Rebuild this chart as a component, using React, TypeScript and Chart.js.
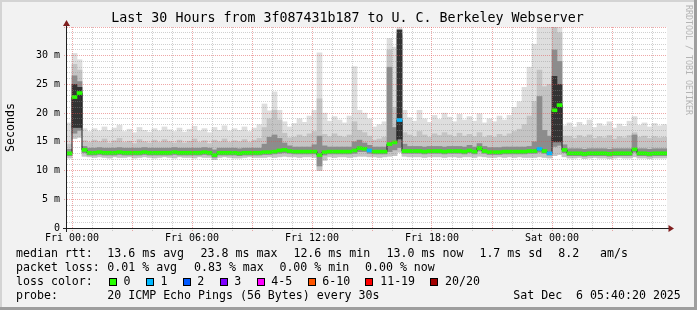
import React, { useEffect, useRef } from 'react';
import { Chart, registerables } from 'chart.js';

Chart.register(...registerables);

// ---------- texts ----------
const titleText = 'Last 30 Hours from 3f087431b187 to U. C. Berkeley Webserver';
const yAxisTitle = 'Seconds';
const watermark = 'RRDTOOL / TOBI OETIKER';

// ---------- axes ----------
const xTickHours = [0, 6, 12, 18, 24];
const xTickLabels = ['Fri 00:00', 'Fri 06:00', 'Fri 12:00', 'Fri 18:00', 'Sat 00:00'];
const yTickValues = [0, 5, 10, 15, 20, 25, 30];
const yTickLabels = ['0', '5 m', '10 m', '15 m', '20 m', '25 m', '30 m'];

// 15-minute bins, first bin starts 15 min before Fri 00:00 (hours)
const firstBinStart = -0.25;
const binHours = 0.25;

// ---------- series (ms) ----------
const median = [
  13.0, 22.8, 23.5, 13.6, 13.1, 13.1, 13.2, 13.1, 13.1, 13.1,
  13.2, 13.1, 13.1, 13.1, 13.1, 13.2, 13.1, 13.1, 13.1, 13.1,
  13.1, 13.2, 13.1, 13.1, 13.1, 13.1, 13.1, 13.2, 13.1, 12.7,
  13.1, 13.1, 13.1, 13.1, 13.0, 13.1, 13.1, 13.1, 13.1, 13.2,
  13.2, 13.3, 13.5, 13.6, 13.4, 13.3, 13.3, 13.3, 13.3, 13.3,
  12.7, 13.2, 13.3, 13.3, 13.3, 13.3, 13.3, 13.5, 13.9, 13.8,
  13.5, 13.3, 13.3, 13.3, 14.6, 14.9, 18.8, 13.4, 13.4, 13.4,
  13.4, 13.3, 13.4, 13.4, 13.4, 13.3, 13.4, 13.4, 13.4, 13.3,
  13.5, 13.3, 13.9, 13.4, 13.2, 13.2, 13.2, 13.3, 13.3, 13.3,
  13.3, 13.3, 13.4, 13.4, 13.8, 13.4, 13.0, 20.5, 21.4, 13.6,
  13.0, 13.0, 13.0, 12.9, 13.0, 13.0, 13.0, 13.0, 12.9, 13.0,
  13.0, 13.0, 13.0, 13.7, 13.0, 13.0, 12.9, 13.0, 13.0, 13.0,
];

const lossPings = [
  0, 0, 0, 0, 0, 0, 0, 0, 0, 0,
  0, 0, 0, 0, 0, 0, 0, 0, 0, 0,
  0, 0, 0, 0, 0, 0, 0, 0, 0, 0,
  0, 0, 0, 0, 0, 0, 0, 0, 0, 0,
  0, 0, 0, 0, 0, 0, 0, 0, 0, 0,
  0, 0, 0, 0, 0, 0, 0, 0, 0, 0,
  1, 0, 0, 0, 0, 0, 1, 0, 0, 0,
  0, 0, 0, 0, 0, 0, 0, 0, 0, 0,
  0, 0, 0, 0, 0, 0, 0, 0, 0, 0,
  0, 0, 0, 0, 1, 0, 1, 0, 0, 0,
  0, 0, 0, 0, 0, 0, 0, 0, 0, 0,
  0, 0, 0, 0, 0, 0, 0, 0, 0, 0,
];

const minPing = [
  12.2, 15.6, 15.8, 12.5, 12.4, 12.3, 12.4, 12.3, 12.2, 12.4,
  12.3, 12.3, 12.4, 12.2, 12.3, 12.4, 12.3, 12.2, 12.3, 12.4,
  12.3, 12.2, 12.4, 12.3, 12.3, 12.2, 12.4, 12.3, 12.3, 11.9,
  12.3, 12.4, 12.3, 12.2, 12.2, 12.3, 12.4, 12.3, 12.3, 12.3,
  12.4, 12.3, 12.4, 12.5, 12.4, 12.4, 12.3, 12.4, 12.4, 12.3,
  10.0, 11.8, 12.4, 12.3, 12.4, 12.4, 12.3, 12.4, 12.5, 12.5,
  12.4, 12.4, 12.3, 12.4, 12.5, 12.6, 13.2, 12.5, 12.4, 12.4,
  12.4, 12.3, 12.4, 12.4, 12.4, 12.3, 12.4, 12.4, 12.3, 12.4,
  12.4, 12.3, 12.5, 12.4, 12.3, 12.3, 12.4, 12.3, 12.4, 12.3,
  12.4, 12.3, 12.3, 12.3, 12.4, 12.3, 12.2, 12.6, 12.8, 12.4,
  12.2, 12.2, 12.3, 12.1, 12.2, 12.3, 12.2, 12.2, 12.1, 12.2,
  12.3, 12.2, 12.2, 12.4, 12.2, 12.2, 12.1, 12.2, 12.2, 12.2,
];

const maxPing = [
  18.3, 30.4, 29.3, 17.3, 16.8, 17.3, 16.9, 17.6, 17.0, 17.4,
  17.9, 16.8, 17.2, 16.6, 17.5, 17.0, 16.7, 17.3, 16.9, 17.6,
  17.1, 16.8, 17.4, 16.7, 17.2, 17.7, 16.9, 17.3, 16.6, 17.5,
  17.0, 17.8, 16.9, 17.3, 17.0, 17.6, 16.8, 17.4, 18.0, 21.6,
  20.4, 23.7, 20.5, 18.5, 17.6, 18.2, 19.0, 18.4, 19.5, 20.5,
  30.5, 20.0, 18.6, 19.4, 18.8, 18.3, 19.5, 28.1, 20.5, 20.0,
  19.0, 17.6, 18.0, 18.5, 33.0, 31.5, 35.0, 20.5, 19.2, 18.6,
  20.5, 19.0, 18.4, 19.6, 18.9, 20.0, 19.3, 18.5, 19.8, 18.8,
  19.4, 18.6, 19.9, 18.3, 19.0, 18.5, 19.5, 18.8, 19.6, 21.0,
  22.0, 24.5, 28.0, 32.0, 35.0, 35.0, 35.0, 35.0, 35.0, 17.8,
  18.3, 17.6, 18.4, 17.9, 18.8, 17.5, 18.2, 17.8, 18.5, 17.4,
  18.1, 17.7, 18.6, 19.4, 17.9, 18.3, 17.6, 18.2, 17.8, 18.0,
];

const upperMid = [
  14.6, 28.5, 27.5, 15.2, 14.9, 15.3, 15.0, 15.5, 14.8, 15.2,
  15.6, 14.9, 15.1, 14.7, 15.4, 15.0, 14.8, 15.3, 14.9, 15.4,
  15.0, 14.8, 15.3, 14.8, 15.1, 15.5, 14.9, 15.2, 14.7, 15.3,
  15.0, 15.5, 14.9, 15.2, 15.0, 15.4, 14.9, 15.3, 15.6, 17.5,
  19.0, 20.5, 18.8, 16.5, 15.7, 15.8, 16.2, 15.9, 16.4, 16.8,
  22.5, 16.3, 15.9, 16.4, 16.0, 15.8, 16.2, 18.5, 17.0, 16.6,
  16.0, 15.3, 15.5, 15.8, 31.0, 21.0, 34.0, 16.6, 16.2, 15.9,
  16.8, 16.2, 15.8, 16.4, 16.1, 16.6, 16.2, 15.9, 16.5, 16.0,
  16.3, 15.9, 16.6, 15.8, 16.1, 15.8, 16.3, 16.0, 16.4, 16.8,
  17.2, 18.0, 19.5, 22.0, 27.5, 24.6, 25.0, 35.0, 34.0, 16.0,
  16.0, 15.6, 16.1, 15.8, 16.2, 15.6, 15.9, 15.7, 16.1, 15.5,
  15.9, 15.7, 16.1, 16.6, 15.8, 16.0, 15.6, 15.9, 15.7, 15.8,
];

const darkLow = [
  12.6, 16.5, 17.0, 13.1, 12.7, 12.7, 12.8, 12.7, 12.7, 12.7,
  12.8, 12.7, 12.7, 12.7, 12.7, 12.8, 12.7, 12.7, 12.7, 12.7,
  12.7, 12.8, 12.7, 12.7, 12.7, 12.7, 12.7, 12.8, 12.7, 12.3,
  12.7, 12.7, 12.7, 12.7, 12.6, 12.7, 12.7, 12.7, 12.7, 12.8,
  12.8, 12.9, 13.0, 13.1, 13.0, 12.9, 12.9, 12.9, 12.9, 12.9,
  10.8, 12.7, 12.9, 12.9, 12.9, 12.9, 12.9, 13.0, 13.3, 13.3,
  13.0, 12.9, 12.9, 12.9, 13.3, 13.6, 14.0, 13.0, 13.0, 13.0,
  13.0, 12.9, 13.0, 13.0, 13.0, 12.9, 13.0, 13.0, 13.0, 12.9,
  13.1, 12.9, 13.4, 13.0, 12.8, 12.8, 12.8, 12.9, 12.9, 12.9,
  12.9, 12.9, 13.0, 13.0, 13.2, 13.0, 12.7, 14.2, 14.4, 13.1,
  12.6, 12.6, 12.6, 12.5, 12.6, 12.6, 12.6, 12.6, 12.5, 12.6,
  12.6, 12.6, 12.6, 13.2, 12.6, 12.6, 12.5, 12.6, 12.6, 12.6,
];

const darkHigh = [
  13.7, 26.5, 25.5, 14.2, 13.9, 13.9, 14.0, 13.9, 13.9, 13.9,
  14.0, 13.9, 13.9, 13.9, 13.9, 14.0, 13.9, 13.9, 13.9, 13.9,
  13.9, 14.0, 13.9, 13.9, 13.9, 13.9, 13.9, 14.0, 13.9, 13.6,
  13.9, 13.9, 13.9, 13.9, 13.8, 13.9, 13.9, 13.9, 13.9, 14.6,
  15.8, 16.2, 15.6, 14.8, 14.3, 14.1, 14.1, 14.1, 14.1, 14.5,
  16.0, 14.3, 14.1, 14.1, 14.1, 14.1, 14.1, 15.0, 15.3, 14.8,
  14.4, 14.1, 14.1, 14.1, 28.0, 17.5, 33.5, 14.6, 14.2, 14.2,
  14.2, 14.1, 14.2, 14.2, 14.2, 14.1, 14.2, 14.2, 14.2, 14.1,
  14.4, 14.1, 14.7, 14.2, 14.0, 14.0, 14.0, 14.1, 14.1, 14.1,
  14.1, 14.1, 14.2, 15.0, 22.9, 17.0, 16.0, 31.0, 29.0, 14.5,
  13.8, 13.8, 13.8, 13.7, 13.8, 13.8, 13.8, 13.8, 13.7, 13.8,
  13.8, 13.8, 13.8, 16.2, 13.8, 13.8, 13.7, 13.8, 13.8, 13.8,
];

// darkest smoke core, only where the spikes are
const coreBins = [1, 2, 66, 97, 98];
const coreLow = [17.5, 17.5, 15.5, 15.0, 15.0];
const coreHigh = [25.0, 24.5, 34.5, 26.4, 25.0];

// ---------- legend ----------
const lossClassLabels = ['0', '1', '2', '3', '4-5', '6-10', '11-19', '20/20'];
const lossClassMin = [0, 1, 2, 3, 4, 6, 11, 20];
const lossClassColors = ['#26ff00', '#00b8ff', '#0059ff', '#7e00ff', '#ff00ff', '#ff5500', '#ff0000', '#a10000'];
const rttLabel = 'median rtt:';
const rttStats = ['13.6 ms avg', '23.8 ms max', '12.6 ms min', '13.0 ms now', '1.7 ms sd', '8.2', 'am/s'];
const lossLabel = 'packet loss:';
const lossStats = ['0.01 % avg', '0.83 % max', '0.00 % min', '0.00 % now'];
const lossColorLabel = 'loss color:';
const probeLabel = 'probe:';
const probeText = '20 ICMP Echo Pings (56 Bytes) every 30s';
const dateText = 'Sat Dec  6 05:40:20 2025';

// ---------- styling ----------
const MONO = "'DejaVu Sans Mono', monospace";
const GRID_MINOR = 'rgba(143,143,143,0.42)';
const GRID_MAJOR = 'rgba(222,79,79,0.5)';

const binX = (i: number) => firstBinStart + binHours * (i + 0.5);

function lossColor(n: number) {
  let idx = 0;
  for (let k = 0; k < lossClassMin.length; k++) if (n >= lossClassMin[k]) idx = k;
  return lossClassColors[idx];
}

const framePlugin = {
  id: 'rrdFrame',
  beforeDraw(chart: any) {
    const { ctx, width, height, chartArea: a } = chart;
    ctx.save();
    ctx.fillStyle = '#f2f2f2';
    ctx.fillRect(0, 0, width, height);
    ctx.fillStyle = '#d4d4d4';
    ctx.fillRect(0, 0, width, 2);
    ctx.fillRect(0, 0, 2, height);
    ctx.fillStyle = '#9e9e9e';
    ctx.fillRect(0, height - 3, width, 3);
    ctx.fillRect(width - 3, 0, 3, height);
    ctx.fillStyle = '#ffffff';
    ctx.fillRect(a.left, a.top, a.right - a.left, a.bottom - a.top);
    ctx.restore();
  },
  afterDraw(chart: any) {
    const { ctx, chartArea: a } = chart;
    ctx.save();
    // axes
    ctx.strokeStyle = '#1f1f1f';
    ctx.lineWidth = 1;
    ctx.beginPath();
    ctx.moveTo(a.left - 0.5, a.top - 3);
    ctx.lineTo(a.left - 0.5, a.bottom + 4);
    ctx.stroke();
    ctx.beginPath();
    ctx.moveTo(a.left - 4, a.bottom + 0.5);
    ctx.lineTo(a.right + 2, a.bottom + 0.5);
    ctx.stroke();
    // arrows
    ctx.fillStyle = '#801f1f';
    ctx.beginPath();
    ctx.moveTo(a.left - 0.5, a.top - 7);
    ctx.lineTo(a.left - 4, a.top - 1);
    ctx.lineTo(a.left + 3, a.top - 1);
    ctx.closePath();
    ctx.fill();
    ctx.beginPath();
    ctx.moveTo(a.right + 7, a.bottom + 0.5);
    ctx.lineTo(a.right + 1.5, a.bottom - 3);
    ctx.lineTo(a.right + 1.5, a.bottom + 4);
    ctx.closePath();
    ctx.fill();

    // title
    ctx.fillStyle = '#000';
    ctx.textBaseline = 'middle';
    ctx.textAlign = 'center';
    ctx.font = `13.3px ${MONO}`;
    ctx.fillText(titleText, 347.5, 19);

    const legendFont = `11.6px ${MONO}`;
    // vertical axis title
    ctx.save();
    ctx.translate(10.5, 127.5);
    ctx.rotate(-Math.PI / 2);
    ctx.font = legendFont;
    ctx.fillText(yAxisTitle, 0, 0);
    ctx.restore();

    // watermark
    ctx.save();
    ctx.translate(688, 5);
    ctx.rotate(Math.PI / 2);
    ctx.textAlign = 'left';
    ctx.font = `8.3px ${MONO}`;
    ctx.fillStyle = '#b4b4b4';
    ctx.fillText(watermark, 0, 0);
    ctx.restore();

    // legend rows
    ctx.font = legendFont;
    ctx.textAlign = 'left';
    ctx.fillStyle = '#000';
    const rowY = [254.3, 268, 282, 296];
    const rttX = [107.3, 200.6, 293.4, 386.6, 479.4, 558.3, 600];
    ctx.fillText(rttLabel, 16, rowY[0]);
    rttStats.forEach((s, k) => ctx.fillText(s, rttX[k], rowY[0]));
    const lossX = [107.3, 194, 279.4, 365];
    ctx.fillText(lossLabel, 16, rowY[1]);
    lossStats.forEach((s, k) => ctx.fillText(s, lossX[k], rowY[1]));

    ctx.fillText(lossColorLabel, 16, rowY[2]);
    let cx = 108.7;
    lossClassLabels.forEach((lab, k) => {
      ctx.fillStyle = lossClassColors[k];
      ctx.fillRect(Math.round(cx), 278, 8, 8);
      ctx.strokeStyle = '#000';
      ctx.lineWidth = 1;
      ctx.strokeRect(Math.round(cx) + 0.5, 278.5, 7, 7);
      ctx.fillStyle = '#000';
      const tx = cx + 14.7;
      ctx.fillText(lab, tx, rowY[2]);
      cx = tx + ctx.measureText(lab).width + 15.3;
    });

    ctx.fillText(probeLabel, 16, rowY[3]);
    ctx.fillText(probeText, 107.3, rowY[3]);
    ctx.fillText(dateText, 513.3, rowY[3]);
    ctx.restore();
  },
};

export default function App() {
  const ref = useRef<HTMLCanvasElement>(null);
  useEffect(() => {
    document.body.style.margin = '0';
    const n = median.length;
    const idx = Array.from({ length: n }, (_, i) => i);
    const hourTicks = Array.from({ length: 30 }, (_, h) => h);
    const majorX = (ctx: any) => (ctx.tick && ctx.tick.value % 3 === 0 ? GRID_MAJOR : GRID_MINOR);
    const majorY = (ctx: any) => (ctx.tick && ctx.tick.value % 5 === 0 ? GRID_MAJOR : GRID_MINOR);

    const chart = new Chart(ref.current as HTMLCanvasElement, {
      type: 'bar',
      data: {
        datasets: [
          {
            type: 'bar',
            label: 'median',
            order: 1,
            data: idx.map((i) => ({ x: binX(i), y: [median[i] - 0.26, median[i] + 0.26] })) as any,
            backgroundColor: idx.map((i) => lossColor(lossPings[i])),
          },
          {
            type: 'line',
            label: 'median step',
            order: 2,
            data: idx.map((i) => ({ x: binX(i), y: median[i] })) as any,
            borderColor: '#1f1f1f',
            borderWidth: 1,
            pointRadius: 0,
            stepped: 'middle',
          } as any,
          {
            type: 'bar',
            label: 'core',
            order: 3,
            data: coreBins.map((b, k) => ({ x: binX(b), y: [coreLow[k], coreHigh[k]] })) as any,
            backgroundColor: '#333333',
          },
          {
            type: 'bar',
            label: 'dark',
            order: 4,
            data: idx.map((i) => ({ x: binX(i), y: [darkLow[i], darkHigh[i]] })) as any,
            backgroundColor: '#8c8c8c',
          },
          {
            type: 'bar',
            label: 'mid',
            order: 5,
            data: idx.map((i) => ({ x: binX(i), y: [minPing[i], upperMid[i]] })) as any,
            backgroundColor: '#c4c4c4',
          },
          {
            type: 'bar',
            label: 'light',
            order: 6,
            data: idx.map((i) => ({ x: binX(i), y: [minPing[i], maxPing[i]] })) as any,
            backgroundColor: '#dedede',
          },
        ],
      },
      options: {
        animation: false,
        responsive: false,
        devicePixelRatio: 1,
        events: [],
        layout: { padding: { left: 0, right: 30, top: 27, bottom: 0 } },
        datasets: {
          bar: { grouped: false, barPercentage: 1, categoryPercentage: 1, borderWidth: 0 } as any,
        },
        plugins: { legend: { display: false }, tooltip: { enabled: false }, title: { display: false } },
        scales: {
          x: {
            type: 'linear',
            offset: false,
            min: firstBinStart,
            max: firstBinStart + binHours * n,
            afterBuildTicks: (s: any) => {
              s.ticks = hourTicks.map((v) => ({ value: v }));
            },
            afterFit: (s: any) => {
              s.height = 82;
            },
            grid: {
              z: 1,
              offset: false,
              color: majorX,
              lineWidth: 1,
              drawTicks: true,
              tickLength: 3,
              tickColor: majorX,
              tickBorderDash: [1, 1],
            } as any,
            border: { display: false, dash: [1, 1] },
            ticks: {
              autoSkip: false,
              maxRotation: 0,
              padding: 1,
              color: '#000',
              font: { family: MONO, size: 10 },
              callback: (v: any) => {
                const k = xTickHours.indexOf(Number(v));
                return k >= 0 ? xTickLabels[k] : '';
              },
            },
          },
          y: {
            type: 'linear',
            min: 0,
            max: 35,
            afterBuildTicks: (s: any) => {
              s.ticks = Array.from({ length: 36 }, (_, v) => ({ value: v }));
            },
            afterFit: (s: any) => {
              s.width = 67;
            },
            grid: {
              z: 1,
              color: majorY,
              lineWidth: 1,
              drawTicks: true,
              tickLength: 3,
              tickColor: (ctx: any) => (ctx.tick && ctx.tick.value % 5 === 0 ? GRID_MAJOR : 'rgba(0,0,0,0)'),
              tickBorderDash: [1, 1],
            } as any,
            border: { display: false, dash: [1, 1] },
            ticks: {
              autoSkip: false,
              padding: 4,
              color: '#000',
              font: { family: MONO, size: 10 },
              callback: (v: any) => {
                const k = yTickValues.indexOf(Number(v));
                return k >= 0 ? yTickLabels[k] : '';
              },
            },
          },
        },
      },
      plugins: [framePlugin],
    } as any);
    return () => chart.destroy();
  }, []);
  return <canvas ref={ref} width={697} height={310} style={{ display: 'block', width: 697, height: 310 }} />;
}
